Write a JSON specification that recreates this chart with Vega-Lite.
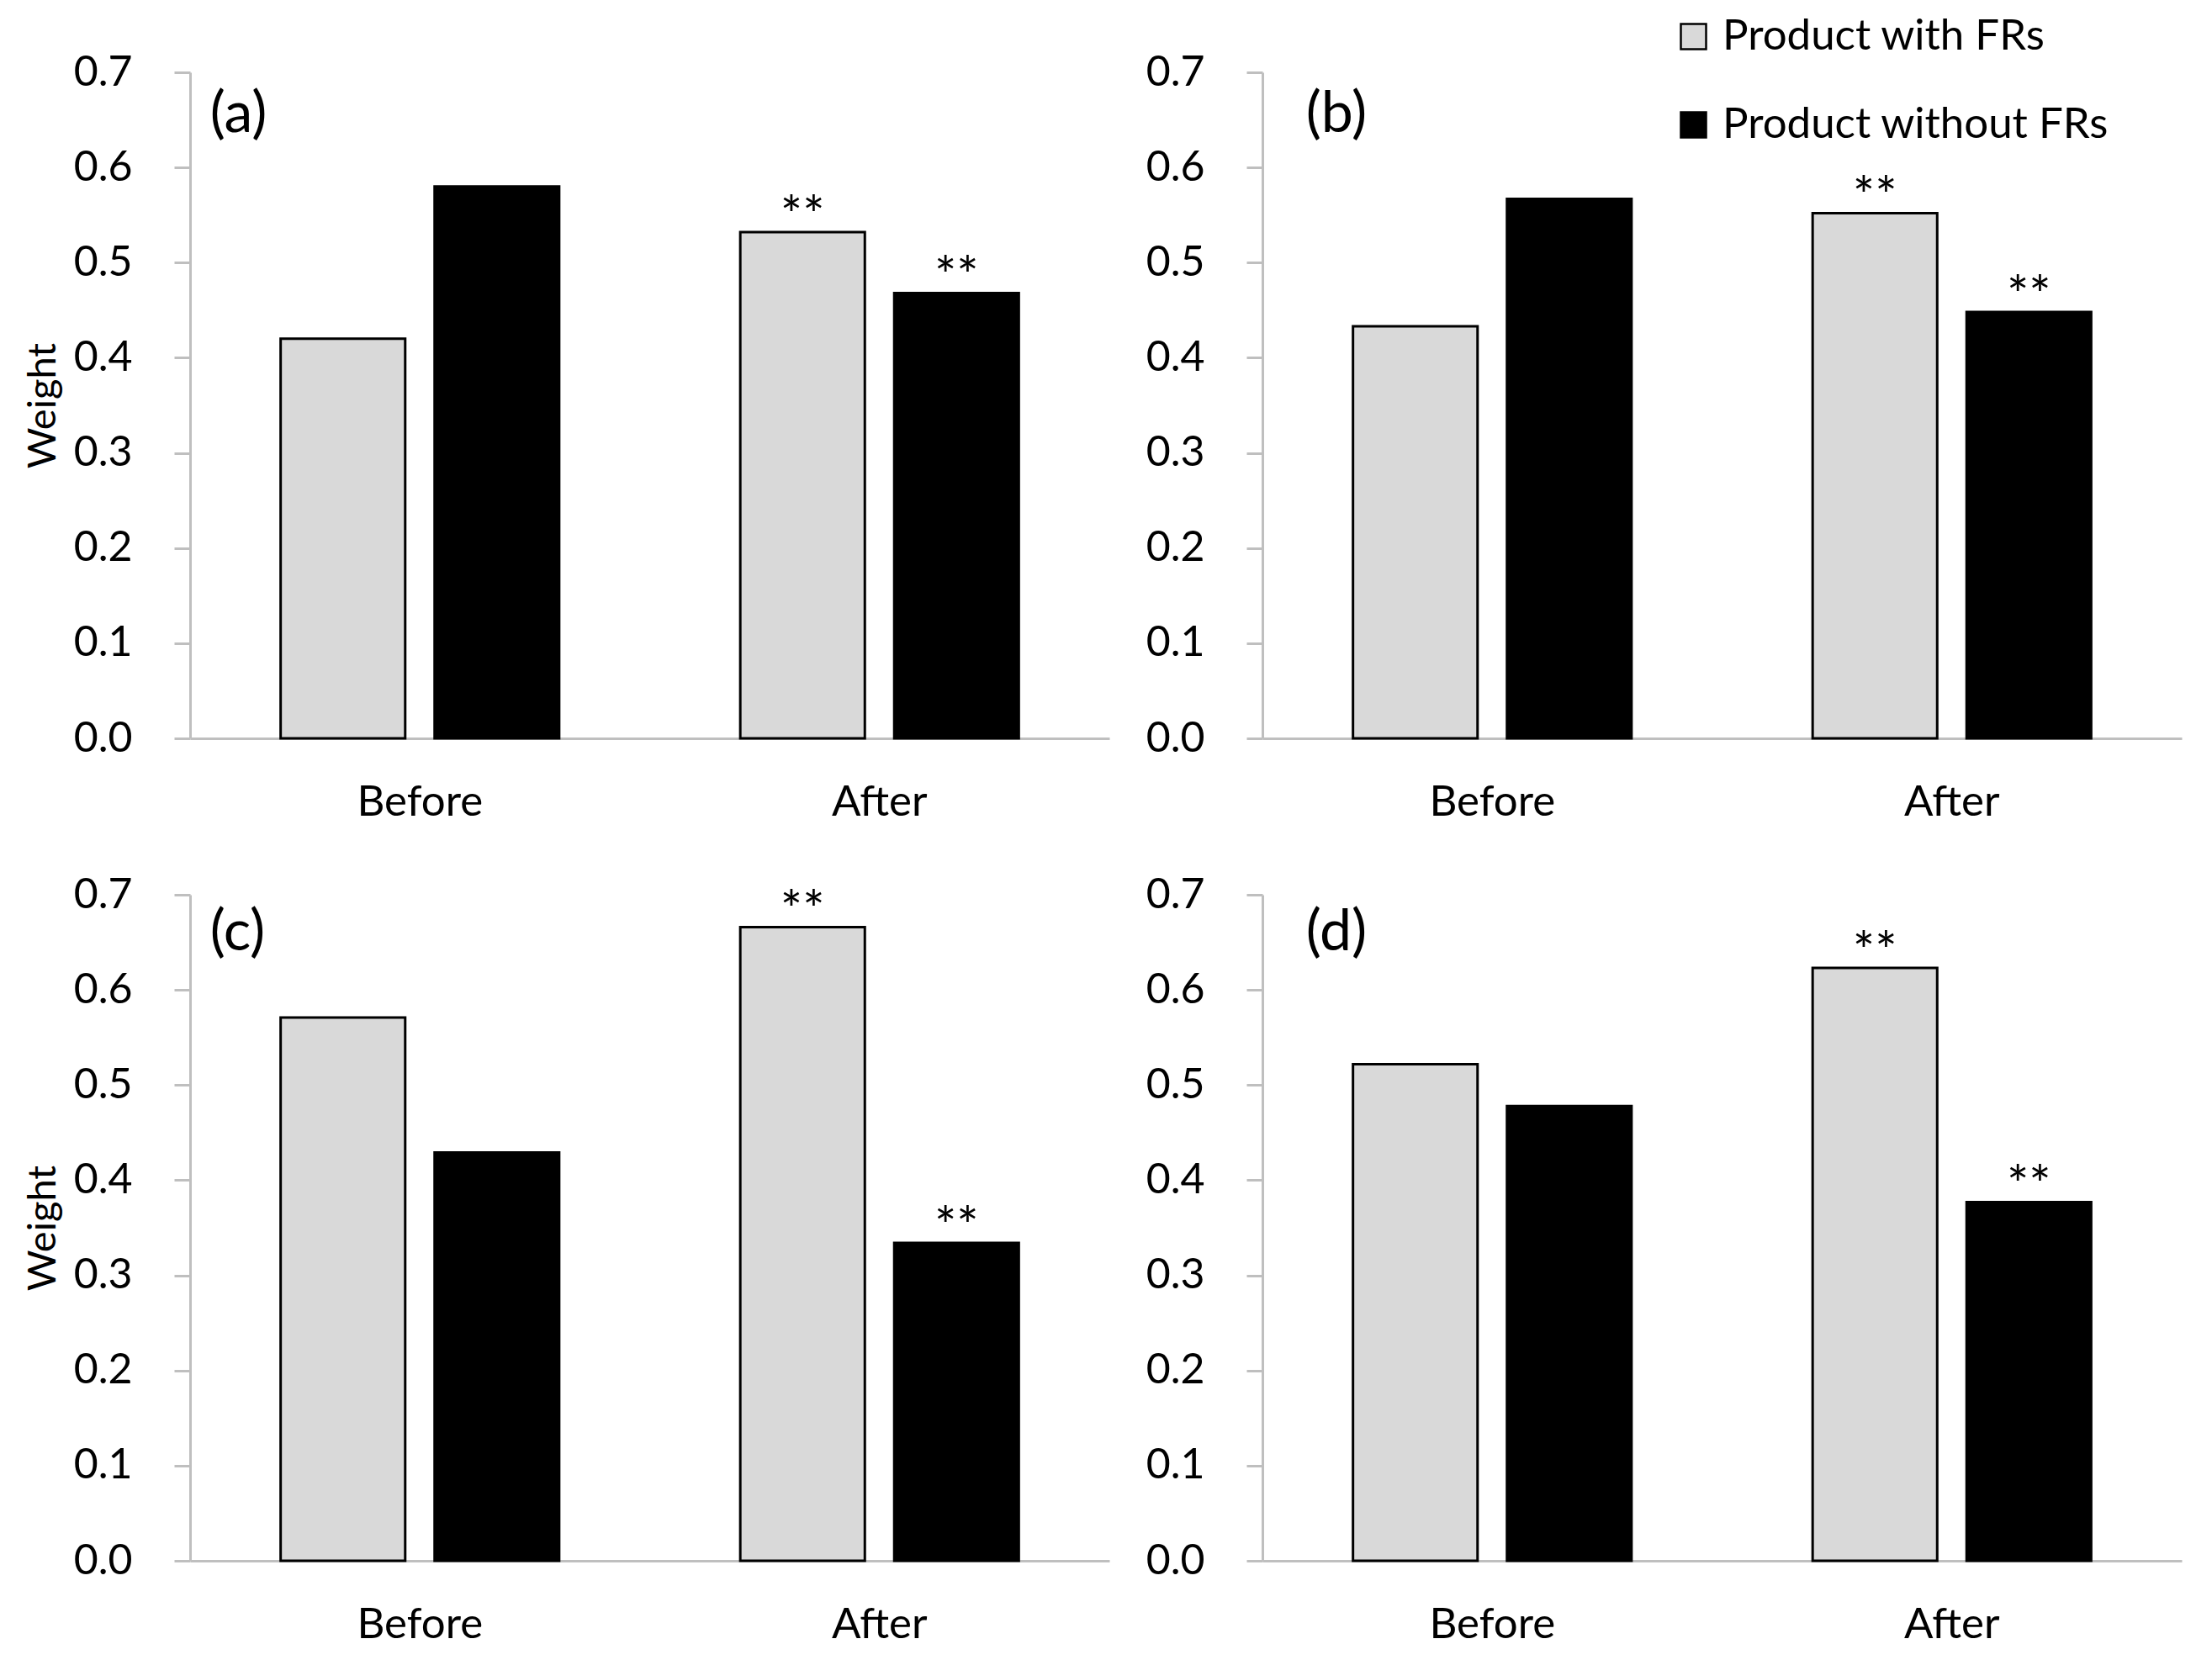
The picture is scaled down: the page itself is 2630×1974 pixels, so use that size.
{
  "$schema": "https://vega.github.io/schema/vega-lite/v6.json",
  "background": "white",
  "padding": {"left": 27, "top": 18, "right": 30, "bottom": 30},
  "datasets": {
    "weights": [
      {"panel": "a", "period": "Before", "product": "Product with FRs", "value": 0.42, "sig": ""},
      {"panel": "a", "period": "Before", "product": "Product without FRs", "value": 0.58, "sig": ""},
      {"panel": "a", "period": "After", "product": "Product with FRs", "value": 0.532, "sig": "**"},
      {"panel": "a", "period": "After", "product": "Product without FRs", "value": 0.468, "sig": "**"},
      {"panel": "b", "period": "Before", "product": "Product with FRs", "value": 0.433, "sig": ""},
      {"panel": "b", "period": "Before", "product": "Product without FRs", "value": 0.567, "sig": ""},
      {"panel": "b", "period": "After", "product": "Product with FRs", "value": 0.552, "sig": "**"},
      {"panel": "b", "period": "After", "product": "Product without FRs", "value": 0.448, "sig": "**"},
      {"panel": "c", "period": "Before", "product": "Product with FRs", "value": 0.571, "sig": ""},
      {"panel": "c", "period": "Before", "product": "Product without FRs", "value": 0.429, "sig": ""},
      {"panel": "c", "period": "After", "product": "Product with FRs", "value": 0.666, "sig": "**"},
      {"panel": "c", "period": "After", "product": "Product without FRs", "value": 0.334, "sig": "**"},
      {"panel": "d", "period": "Before", "product": "Product with FRs", "value": 0.522, "sig": ""},
      {"panel": "d", "period": "Before", "product": "Product without FRs", "value": 0.478, "sig": ""},
      {"panel": "d", "period": "After", "product": "Product with FRs", "value": 0.623, "sig": "**"},
      {"panel": "d", "period": "After", "product": "Product without FRs", "value": 0.377, "sig": "**"}
    ],
    "labels": [
      {"panel": "a", "label": "(a)", "period": "Before", "value": 0.655},
      {"panel": "b", "label": "(b)", "period": "Before", "value": 0.655},
      {"panel": "c", "label": "(c)", "period": "Before", "value": 0.659},
      {"panel": "d", "label": "(d)", "period": "Before", "value": 0.659}
    ]
  },
  "columns": 2,
  "spacing": {"row": 186, "column": 182},
  "bounds": "flush",
  "resolve": {"scale": {"color": "independent"}, "legend": {"color": "independent"}},
  "concat": [
    {
      "width": 1093, "height": 792,
      "layer": [
        {
          "data": {"name": "weights"},
          "transform": [{"filter": "datum.panel === 'a'"}],
          "mark": {"type": "bar", "stroke": "#000000", "strokeWidth": 3},
          "encoding": {
            "x": {"field": "period", "type": "nominal", "sort": ["Before", "After"], "scale": {"paddingInner": 0.394, "paddingOuter": 0.197}, "axis": {"title": null}},
            "xOffset": {"field": "product", "type": "nominal", "sort": ["Product with FRs", "Product without FRs"], "scale": {"paddingInner": 0.191, "paddingOuter": 0}},
            "y": {"field": "value", "type": "quantitative", "scale": {"domain": [0, 0.7], "nice": false}, "axis": {"title": "Weight", "values": [0, 0.1, 0.2, 0.3, 0.4, 0.5, 0.6, 0.7], "format": ".1f"}},
            "color": {"field": "product", "type": "nominal", "sort": ["Product with FRs", "Product without FRs"], "scale": {"domain": ["Product with FRs", "Product without FRs"], "range": ["#d9d9d9", "#000000"]}, "legend": null}
          }
        },
        {
          "data": {"name": "weights"},
          "transform": [{"filter": "datum.panel === 'a'"}],
          "mark": {"type": "text", "baseline": "alphabetic", "dy": 2, "fontSize": 62, "font": "Lato", "color": "#000000"},
          "encoding": {
            "x": {"field": "period", "type": "nominal", "sort": ["Before", "After"]},
            "xOffset": {"field": "product", "type": "nominal", "sort": ["Product with FRs", "Product without FRs"]},
            "y": {"field": "value", "type": "quantitative"},
            "text": {"field": "sig"}
          }
        },
        {
          "data": {"name": "labels"},
          "transform": [{"filter": "datum.panel === 'a'"}],
          "mark": {"type": "text", "align": "left", "baseline": "middle", "fontSize": 68, "font": "Lato", "dx": -84, "color": "#000000"},
          "encoding": {
            "x": {"field": "period", "type": "nominal", "bandPosition": 0, "sort": ["Before", "After"]},
            "y": {"field": "value", "type": "quantitative"},
            "text": {"field": "label"}
          }
        }
      ]
    },
    {
      "width": 1093, "height": 792,
      "layer": [
        {
          "data": {"name": "weights"},
          "transform": [{"filter": "datum.panel === 'b'"}],
          "mark": {"type": "bar", "stroke": "#000000", "strokeWidth": 3},
          "encoding": {
            "x": {"field": "period", "type": "nominal", "sort": ["Before", "After"], "scale": {"paddingInner": 0.394, "paddingOuter": 0.197}, "axis": {"title": null}},
            "xOffset": {"field": "product", "type": "nominal", "sort": ["Product with FRs", "Product without FRs"], "scale": {"paddingInner": 0.191, "paddingOuter": 0}},
            "y": {"field": "value", "type": "quantitative", "scale": {"domain": [0, 0.7], "nice": false}, "axis": {"title": null, "values": [0, 0.1, 0.2, 0.3, 0.4, 0.5, 0.6, 0.7], "format": ".1f"}},
            "color": {"field": "product", "type": "nominal", "sort": ["Product with FRs", "Product without FRs"], "scale": {"domain": ["Product with FRs", "Product without FRs"], "range": ["#d9d9d9", "#000000"]},
              "legend": {"orient": "none", "legendX": 487, "legendY": -68, "title": null, "symbolType": "square", "symbolSize": 900, "symbolStrokeColor": "#000000", "symbolStrokeWidth": 2.5, "symbolOpacity": 1, "labelFontSize": 51, "labelFont": "Lato", "labelColor": "#000000", "labelOffset": 9, "rowPadding": 53, "padding": 0, "labelLimit": 700}}
          }
        },
        {
          "data": {"name": "weights"},
          "transform": [{"filter": "datum.panel === 'b'"}],
          "mark": {"type": "text", "baseline": "alphabetic", "dy": 2, "fontSize": 62, "font": "Lato", "color": "#000000"},
          "encoding": {
            "x": {"field": "period", "type": "nominal", "sort": ["Before", "After"]},
            "xOffset": {"field": "product", "type": "nominal", "sort": ["Product with FRs", "Product without FRs"]},
            "y": {"field": "value", "type": "quantitative"},
            "text": {"field": "sig"}
          }
        },
        {
          "data": {"name": "labels"},
          "transform": [{"filter": "datum.panel === 'b'"}],
          "mark": {"type": "text", "align": "left", "baseline": "middle", "fontSize": 68, "font": "Lato", "dx": -56, "color": "#000000"},
          "encoding": {
            "x": {"field": "period", "type": "nominal", "bandPosition": 0, "sort": ["Before", "After"]},
            "y": {"field": "value", "type": "quantitative"},
            "text": {"field": "label"}
          }
        }
      ]
    },
    {
      "width": 1093, "height": 792,
      "layer": [
        {
          "data": {"name": "weights"},
          "transform": [{"filter": "datum.panel === 'c'"}],
          "mark": {"type": "bar", "stroke": "#000000", "strokeWidth": 3},
          "encoding": {
            "x": {"field": "period", "type": "nominal", "sort": ["Before", "After"], "scale": {"paddingInner": 0.394, "paddingOuter": 0.197}, "axis": {"title": null}},
            "xOffset": {"field": "product", "type": "nominal", "sort": ["Product with FRs", "Product without FRs"], "scale": {"paddingInner": 0.191, "paddingOuter": 0}},
            "y": {"field": "value", "type": "quantitative", "scale": {"domain": [0, 0.7], "nice": false}, "axis": {"title": "Weight", "values": [0, 0.1, 0.2, 0.3, 0.4, 0.5, 0.6, 0.7], "format": ".1f"}},
            "color": {"field": "product", "type": "nominal", "sort": ["Product with FRs", "Product without FRs"], "scale": {"domain": ["Product with FRs", "Product without FRs"], "range": ["#d9d9d9", "#000000"]}, "legend": null}
          }
        },
        {
          "data": {"name": "weights"},
          "transform": [{"filter": "datum.panel === 'c'"}],
          "mark": {"type": "text", "baseline": "alphabetic", "dy": 2, "fontSize": 62, "font": "Lato", "color": "#000000"},
          "encoding": {
            "x": {"field": "period", "type": "nominal", "sort": ["Before", "After"]},
            "xOffset": {"field": "product", "type": "nominal", "sort": ["Product with FRs", "Product without FRs"]},
            "y": {"field": "value", "type": "quantitative"},
            "text": {"field": "sig"}
          }
        },
        {
          "data": {"name": "labels"},
          "transform": [{"filter": "datum.panel === 'c'"}],
          "mark": {"type": "text", "align": "left", "baseline": "middle", "fontSize": 68, "font": "Lato", "dx": -84, "color": "#000000"},
          "encoding": {
            "x": {"field": "period", "type": "nominal", "bandPosition": 0, "sort": ["Before", "After"]},
            "y": {"field": "value", "type": "quantitative"},
            "text": {"field": "label"}
          }
        }
      ]
    },
    {
      "width": 1093, "height": 792,
      "layer": [
        {
          "data": {"name": "weights"},
          "transform": [{"filter": "datum.panel === 'd'"}],
          "mark": {"type": "bar", "stroke": "#000000", "strokeWidth": 3},
          "encoding": {
            "x": {"field": "period", "type": "nominal", "sort": ["Before", "After"], "scale": {"paddingInner": 0.394, "paddingOuter": 0.197}, "axis": {"title": null}},
            "xOffset": {"field": "product", "type": "nominal", "sort": ["Product with FRs", "Product without FRs"], "scale": {"paddingInner": 0.191, "paddingOuter": 0}},
            "y": {"field": "value", "type": "quantitative", "scale": {"domain": [0, 0.7], "nice": false}, "axis": {"title": null, "values": [0, 0.1, 0.2, 0.3, 0.4, 0.5, 0.6, 0.7], "format": ".1f"}},
            "color": {"field": "product", "type": "nominal", "sort": ["Product with FRs", "Product without FRs"], "scale": {"domain": ["Product with FRs", "Product without FRs"], "range": ["#d9d9d9", "#000000"]}, "legend": null}
          }
        },
        {
          "data": {"name": "weights"},
          "transform": [{"filter": "datum.panel === 'd'"}],
          "mark": {"type": "text", "baseline": "alphabetic", "dy": 2, "fontSize": 62, "font": "Lato", "color": "#000000"},
          "encoding": {
            "x": {"field": "period", "type": "nominal", "sort": ["Before", "After"]},
            "xOffset": {"field": "product", "type": "nominal", "sort": ["Product with FRs", "Product without FRs"]},
            "y": {"field": "value", "type": "quantitative"},
            "text": {"field": "sig"}
          }
        },
        {
          "data": {"name": "labels"},
          "transform": [{"filter": "datum.panel === 'd'"}],
          "mark": {"type": "text", "align": "left", "baseline": "middle", "fontSize": 68, "font": "Lato", "dx": -56, "color": "#000000"},
          "encoding": {
            "x": {"field": "period", "type": "nominal", "bandPosition": 0, "sort": ["Before", "After"]},
            "y": {"field": "value", "type": "quantitative"},
            "text": {"field": "label"}
          }
        }
      ]
    }
  ],
  "config": {
    "view": {"stroke": null},
    "font": "Lato",
    "axis": {
      "grid": false,
      "domainColor": "#bfbfbf",
      "domainWidth": 3,
      "tickColor": "#bfbfbf",
      "tickWidth": 3,
      "labelFont": "Lato",
      "labelColor": "#000000",
      "labelFontSize": 50,
      "titleFont": "Lato",
      "titleColor": "#000000",
      "titleFontWeight": "normal"
    },
    "axisY": {
      "tickSize": 19,
      "labelPadding": 50,
      "titleFontSize": 47,
      "titlePadding": 12
    },
    "axisX": {
      "ticks": false,
      "tickSize": 0,
      "labelAngle": 0,
      "labelPadding": 51,
      "labelFontSize": 51
    }
  }
}
